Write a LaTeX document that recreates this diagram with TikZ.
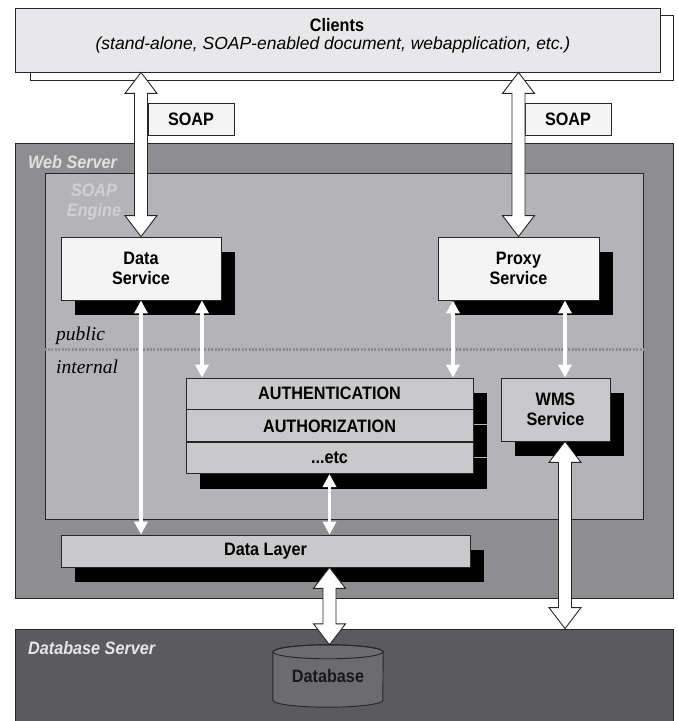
\documentclass[tikz,border=0pt]{standalone}
\usepackage{fontspec}
\setmainfont{Liberation Sans}
\newfontfamily\cond{Liberation Sans}[FakeStretch=0.9]
\newfontfamily\serifit{Liberation Serif}
\usetikzlibrary{arrows.meta,calc,shadows}
\definecolor{edge}{HTML}{262626}
\definecolor{wsgray}{HTML}{8E8E91}
\definecolor{enggray}{HTML}{B4B4B8}
\definecolor{dbgray}{HTML}{5B5B5F}
\definecolor{cylgray}{HTML}{6C6C70}
\definecolor{lightbox}{HTML}{F4F4F4}
\definecolor{midbox}{HTML}{C9C9CB}
\definecolor{clientgray}{HTML}{E8E8EA}
\definecolor{dotgray}{HTML}{8C8C90}
\tikzset{
  region/.style={draw=edge, line width=0.8pt, inner sep=0pt},
  box/.style={draw=edge, line width=0.8pt, inner sep=0pt, align=center,
    font=\cond\bfseries\fontsize{18}{20}\selectfont},
  shadowed/.style={drop shadow={shadow xshift=14pt, shadow yshift=-15pt, fill=black, opacity=1}},
  arealabel/.style={inner sep=0pt, font=\cond\bfseries\itshape\fontsize{18}{20}\selectfont},
  zonelabel/.style={inner sep=0pt, anchor=west, font=\serifit\itshape\fontsize{19.5}{21}\selectfont},
  thinarrow/.style={draw=white, line width=3.4pt, {Triangle[width=13pt,length=13pt]}-{Triangle[width=13pt,length=13pt]}},
  hollow/.style={draw=edge, line width=0.9pt, fill=white},
}
\newcommand{\dblhollow}[2]{%
  \draw[hollow] let \p1=#1, \p2=#2 in
    (\x1,\y1) -- (\x1+16pt,\y1-21pt) -- (\x1+6.5pt,\y1-21pt) -- (\x1+6.5pt,\y2+21pt)
    -- (\x1+16pt,\y2+21pt) -- (\x1,\y2) -- (\x1-16pt,\y2+21pt) -- (\x1-6.5pt,\y2+21pt)
    -- (\x1-6.5pt,\y1-21pt) -- (\x1-16pt,\y1-21pt) -- cycle;}
\begin{document}
\begin{tikzpicture}[x=1pt,y=-1pt]
\useasboundingbox (0,0) rectangle (678,721);
\fill[white] (0,0) rectangle (678,721);

% Clients
\node[region, fill=white, minimum width=643pt, minimum height=65pt] (clientsback) at (351.5,47.5) {};
\node[region, fill=clientgray, minimum width=645pt, minimum height=64pt] (clients) at (337.5,40) {};
\node[inner sep=0pt, font=\cond\bfseries\fontsize{18}{20}\selectfont] (clientstitle) at (337,25) {Clients};
\node[inner sep=0pt, font=\itshape\fontsize{17.5}{19}\selectfont] (clientssub) at (333,45) {(stand-alone, SOAP-enabled document, webapplication, etc.)};

% SOAP labels
\node[box, fill=lightbox, minimum width=86pt, minimum height=32pt] (soapL) at (191,119) {SOAP};
\node[box, fill=lightbox, minimum width=86pt, minimum height=32pt] (soapR) at (568,119) {SOAP};

% Web server and engine
\node[region, fill=wsgray, minimum width=658pt, minimum height=455pt] (web) at (344,370.5) {};
\node[arealabel, anchor=west, text=white!88!black] (weblabel) at (28,162) {Web Server};
\node[region, fill=enggray, minimum width=598pt, minimum height=346pt] (engine) at (344,346) {};
\node[arealabel, align=center, text=white!82!black] (englabel) at (94,202) {SOAP\\Engine};

% Database server
\node[region, fill=dbgray, minimum width=658pt, minimum height=94pt] (dbserver) at (344,676) {};
\node[arealabel, anchor=west, text=white!90!black] (dblabel) at (28,648) {Database Server};

% public/internal
\coordinate (dotY) at (0,349);
\draw[dotgray, line width=3pt, dash pattern=on 2pt off 1.4pt] (engine.west |- dotY) -- (engine.east |- dotY);
\node[zonelabel] (public) at (56,336) {public};
\node[zonelabel] (internal) at (56,367) {internal};

% Services
\node[box, shadowed, fill=lightbox, minimum width=160pt, minimum height=63pt] (ds) at (141,268.5) {Data\\Service};
\node[box, shadowed, fill=lightbox, minimum width=161pt, minimum height=63pt] (proxy) at (518.5,268.5) {Proxy\\Service};
\node[box, shadowed, fill=midbox, minimum width=109pt, minimum height=63pt] (wms) at (555.5,409.5) {WMS\\Service};

% Auth stack
\node[box, shadowed, fill=midbox, minimum width=287pt, minimum height=31pt] (auth1) at (329.5,393.5) {AUTHENTICATION};
\node[box, shadowed, fill=midbox, minimum width=287pt, minimum height=32pt, anchor=north] (auth2) at (auth1.south) {AUTHORIZATION};
\node[box, shadowed, fill=midbox, minimum width=287pt, minimum height=31pt, anchor=north] (auth3) at (auth2.south) {...etc};

% Data layer
\node[box, shadowed, fill=midbox, minimum width=409pt, minimum height=32pt] (dl) at (265.5,551) {Data Layer};

% Database cylinder
\node[inner sep=0pt, minimum width=110pt, minimum height=48pt] (db) at (328,676) {};
\draw[edge, line width=0.9pt, fill=cylgray] (db.north west) -- (db.south west)
  arc[start angle=180, end angle=360, x radius=55pt, y radius=7pt] -- (db.north east)
  arc[start angle=0, end angle=180, x radius=55pt, y radius=7pt] -- cycle;
\draw[edge, line width=0.9pt] (db.north) ellipse[x radius=55pt, y radius=7pt];
\node[inner sep=0pt, text=black!90, font=\cond\bfseries\fontsize{18}{20}\selectfont] (dbtext) at (328,676) {Database};

% Thin white arrows
\coordinate (wmsx) at (565,0);
\coordinate (authLx) at (202,0);
\coordinate (authRx) at (453,0);
\draw[thinarrow] (ds.south) -- (ds.south |- dl.north);
\draw[thinarrow] (authLx |- ds.south) -- (authLx |- auth1.north);
\draw[thinarrow] (authRx |- proxy.south) -- (authRx |- auth1.north);
\draw[thinarrow] (wmsx |- proxy.south) -- (wmsx |- wms.north);
\draw[thinarrow] (auth3.south) -- (auth3.south |- dl.north);

% Hollow arrows
\dblhollow{(clients.south -| ds.north)}{(ds.north)}
\dblhollow{(clients.south -| proxy.north)}{(proxy.north)}
\dblhollow{(dl.south -| auth3.south)}{($(db.north)+(0,-7)$)}
\dblhollow{(wms.south -| wmsx)}{(dbserver.north -| wmsx)}
\end{tikzpicture}
\end{document}
